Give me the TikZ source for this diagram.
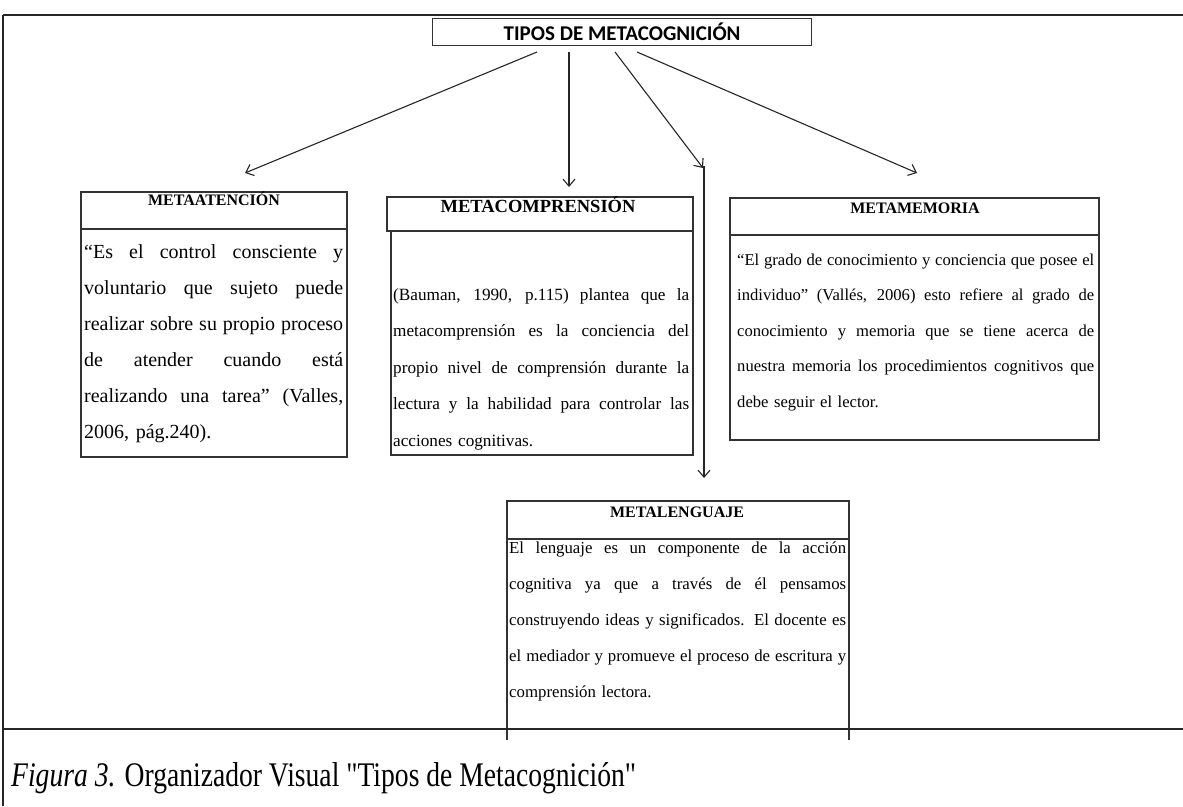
\documentclass[tikz,border=0pt]{standalone}
\usepackage{fontspec}
\setmainfont{Liberation Serif}
\newfontfamily\carl{Carlito}
\newfontfamily\capfont[Ligatures=TeXOff]{Liberation Serif}
\usetikzlibrary{arrows.meta}
\newcommand{\jl}[1]{\makebox[\linewidth][s]{\spaceskip=0pt\xspaceskip=0pt #1}\\}
\begin{document}
\begin{tikzpicture}[x=1pt,y=-1pt,
  boxline/.style={draw=black!80,line width=1.3pt},
  frameline/.style={draw=black!85,line width=2.6pt},
  conn/.style={draw=black!85,line width=1.1pt,-{Straight Barb[length=7pt,width=12pt,line width=1.1pt]}},
  ttl/.style={font=\fontsize{16}{19}\selectfont\bfseries,inner sep=0pt,anchor=base},
  bodyA/.style={font=\fontsize{20}{36}\selectfont,inner sep=0pt,anchor=base west,align=left},
  bodyB/.style={font=\fontsize{16.6}{36}\selectfont,inner sep=0pt,anchor=base west,align=left}]
\useasboundingbox (0,0) rectangle (1183,806);
\fill[white] (0,0) rectangle (1183,806);
% frame
\draw[frameline] (3,15) -- (1183,15);
\draw[draw=black!85,line width=1.6pt] (3,15) -- (3,806);
% title
\node[boxline,minimum width=379pt,minimum height=27pt,inner sep=0pt,anchor=north west,font=\carl\bfseries\fontsize{21}{24}\selectfont] (tipos) at (432,18) {TIPOS DE METACOGNICI\'ON};
% coordinates for arrow starts and ends
\coordinate (s1) at (537,52); \coordinate (e1) at (245,173);
\coordinate (s2) at (569,52); \coordinate (e2) at (569,187);
\coordinate (s3) at (615,52); \coordinate (e3) at (703,168);
\coordinate (s4) at (637,52); \coordinate (e4) at (917,173);
\coordinate (v1) at (704,166); \coordinate (v2) at (704,478);
\draw[conn] (s1) -- (e1);
\draw[conn] (s2) -- (e2);
\draw[conn] (s3) -- (e3);
\draw[conn] (s4) -- (e4);
\draw[conn] (v1) -- (v2);
% METAATENCION
\draw[boxline] (81,192) rectangle (347,457);
\draw[boxline] (81,229) -- (347,229);
\node[ttl] (tA) at (214,205) {METAATENCI\'ON};
\node[bodyA,text width=259pt] (bA) at (84,258) {\jl{“Es el control consciente y}\jl{voluntario que sujeto puede}\jl{realizar sobre su propio proceso}\jl{de atender cuando está}\jl{realizando una tarea” (Valles,}2006, pág.240).};
% METACOMPRENSION
\draw[boxline] (387,197) rectangle (693,231);
\draw[boxline] (391,231) -- (391,455) -- (693,455) -- (693,231);
\node[ttl,font=\fontsize{18.5}{21}\selectfont\bfseries] (tC) at (538,212) {METACOMPRENSI\'ON};
\node[bodyB,font=\fontsize{17.2}{36.5}\selectfont,text width=296pt] (bC) at (393,300) {\jl{(Bauman, 1990, p.115) plantea que la}\jl{metacomprensión es la conciencia del}\jl{propio nivel de comprensión durante la}\jl{lectura y la habilidad para controlar las}acciones cognitivas.};
% METAMEMORIA
\draw[boxline] (730,198) rectangle (1099,440);
\draw[boxline] (730,235) -- (1099,235);
\node[ttl] (tM) at (915,213) {METAMEMORIA};
\node[bodyB,text width=357pt,font=\fontsize{16.6}{35.5}\selectfont] (bM) at (737,265) {\jl{“El grado de conocimiento y conciencia que posee el}\jl{individuo” (Vallés, 2006) esto refiere al grado de}\jl{conocimiento y memoria que se tiene acerca de}\jl{nuestra memoria los procedimientos cognitivos que}debe seguir el lector.};
% METALENGUAJE
\draw[boxline] (507,740) -- (507,501) -- (849,501) -- (849,740);
\draw[boxline] (507,539) -- (849,539);
\node[ttl] (tL) at (677,517) {METALENGUAJE};
\node[bodyB,text width=337pt,font=\fontsize{16.8}{36.2}\selectfont] (bL) at (509,553) {\jl{El lenguaje es un componente de la acción}\jl{cognitiva ya que a través de él pensamos}\jl{construyendo ideas y significados. El docente es}\jl{el mediador y promueve el proceso de escritura y}comprensión lectora.};
% divider
\draw[frameline] (3,729) -- (1183,729);
% caption
\node[inner sep=0pt,anchor=base west,font=\capfont\fontsize{30}{34}\selectfont] (cap) at (11,786) {\scalebox{0.92}[1.15]{\textit{Figura 3.} Organizador Visual "Tipos de Metacognición"}};
\end{tikzpicture}
\end{document}
